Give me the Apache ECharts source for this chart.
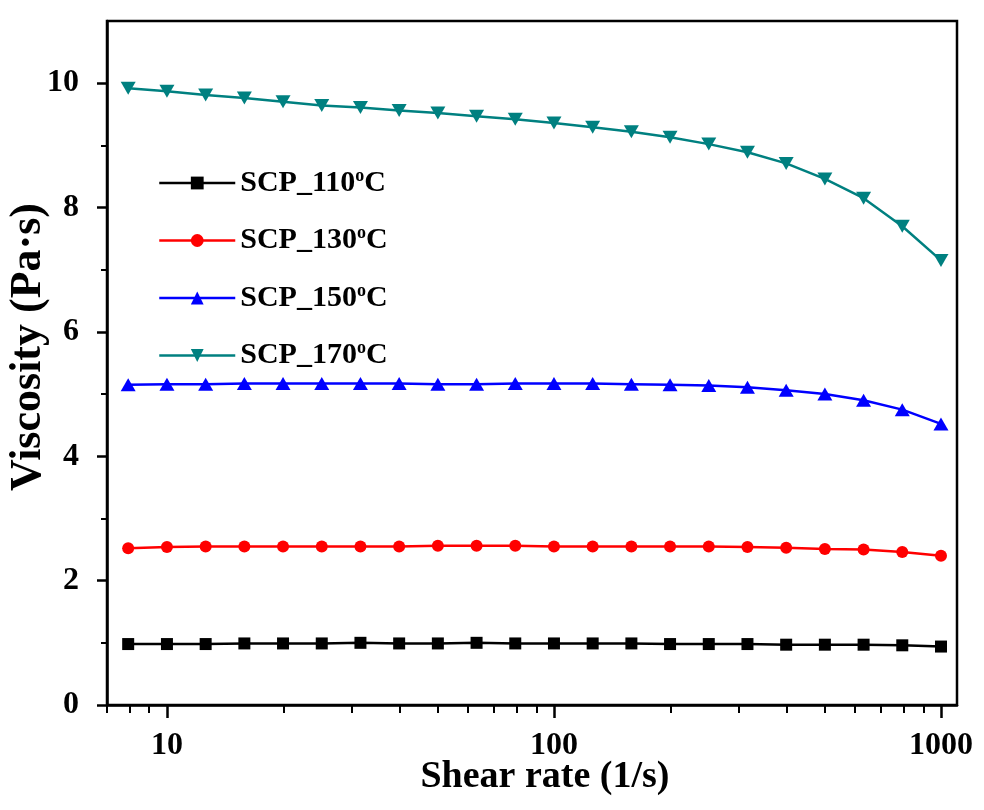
<!DOCTYPE html>
<html><head><meta charset="utf-8">
<script src="https://cdn.jsdelivr.net/npm/echarts@6/dist/echarts.min.js"></script>
<style>html,body{margin:0;padding:0;background:#fff}#c{width:984px;height:810px}</style>
</head><body><div id="c"></div>
<script>
// ---- data ----
const shearRate = [7.94, 10, 12.59, 15.85, 19.95, 25.12, 31.62, 39.81, 50.12, 63.1, 79.43, 100, 125.9, 158.5, 199.5, 251.2, 316.2, 398.1, 501.2, 631, 794.3, 1000];
const temps = ['110', '130', '150', '170'];
const visc110 = [0.98, 0.98, 0.98, 0.99, 0.99, 0.99, 1.00, 0.99, 0.99, 1.00, 0.99, 0.99, 0.99, 0.99, 0.98, 0.98, 0.98, 0.97, 0.97, 0.97, 0.96, 0.94];
const visc130 = [2.52, 2.54, 2.55, 2.55, 2.55, 2.55, 2.55, 2.55, 2.56, 2.56, 2.56, 2.55, 2.55, 2.55, 2.55, 2.55, 2.54, 2.53, 2.51, 2.50, 2.46, 2.40];
const visc150 = [5.15, 5.16, 5.16, 5.17, 5.17, 5.17, 5.17, 5.17, 5.16, 5.16, 5.17, 5.17, 5.17, 5.16, 5.15, 5.14, 5.11, 5.06, 5.00, 4.90, 4.75, 4.52];
const visc170 = [9.92, 9.87, 9.81, 9.76, 9.70, 9.64, 9.61, 9.56, 9.52, 9.47, 9.42, 9.36, 9.29, 9.22, 9.13, 9.02, 8.89, 8.71, 8.46, 8.15, 7.70, 7.15];
const xMajorTicks = [10, 100, 1000];
const xMinorTicks = [7, 8, 9, 20, 30, 40, 50, 60, 70, 80, 90, 200, 300, 400, 500, 600, 700, 800, 900];
const yMajorTicks = [0, 2, 4, 6, 8, 10];
const yMinorTicks = [1, 3, 5, 7, 9];
const xTitle = 'Shear rate (1/s)';
const yTitle = 'Viscosity (Pa\u00B7s)';

// ---- styles ----
const FONT = "'Liberation Serif', 'Times New Roman', serif";
const colors = ['#000000', '#ff0000', '#0000ff', '#008080'];
const symbols = ['rect', 'circle', 'triangle', 'triangle'];
const rotates = [0, 0, 0, 180];
const sizes = [12, 12, [15, 13], [15, 13]];
const allVisc = [visc110, visc130, visc150, visc170];
const names = temps.map(t => 'SCP_' + t + '\u00B0C');

const series = allVisc.map((vals, k) => ({
  name: names[k],
  type: 'line',
  data: shearRate.map((x, i) => [x, vals[i]]),
  symbol: symbols[k],
  symbolSize: sizes[k],
  symbolRotate: rotates[k],
  showAllSymbol: true,
  lineStyle: { color: colors[k], width: 2.5 },
  itemStyle: { color: colors[k] },
  emphasis: { disabled: true },
  animation: false,
  z: 3 + k
}));

const axisLineStyle = { color: '#000', width: 2.5 };
const chart = echarts.init(document.getElementById('c'));
chart.setOption({
  animation: false,
  backgroundColor: '#fff',
  grid: { left: 107, right: 27, top: 21, bottom: 105, show: true, borderColor: '#000', borderWidth: 2.5, backgroundColor: 'transparent', containLabel: false, outerBoundsMode: 'none' },
  legend: {
    orient: 'vertical', left: 153, top: 162, itemWidth: 76, itemHeight: 16, itemGap: 25.5,
    selectedMode: false, data: names,
    lineStyle: { width: 2.5 },
    formatter: n => '{a|' + n.replace('\u00B0C', '') + '}{s|o}{a|C}',
    textStyle: {
      color: '#000',
      rich: {
        a: { fontFamily: FONT, fontWeight: 'bold', fontSize: 30, color: '#000', lineHeight: 30 },
        s: { fontFamily: FONT, fontWeight: 'bold', fontSize: 18, color: '#000', lineHeight: 30, padding: [0, 0, 14, 0] }
      }
    }
  },
  xAxis: [{
    type: 'log', logBase: 10, min: 7, max: 1100, position: 'bottom',
    axisLine: { show: true, lineStyle: axisLineStyle },
    axisTick: { show: true, customValues: xMajorTicks, length: 13, lineStyle: { color: '#000', width: 2.5 } },
    axisLabel: { customValues: xMajorTicks, formatter: v => String(v), margin: 25, fontSize: 32, fontWeight: 'bold', color: '#000', fontFamily: FONT },
    splitLine: { show: false }, minorTick: { show: false },
    name: xTitle, nameLocation: 'middle', nameGap: 53, nameMoveOverlap: false,
    nameTextStyle: { fontSize: 38, fontWeight: 'bold', color: '#000', fontFamily: FONT, padding: [0, 0, 0, 26] }
  }, {
    type: 'log', logBase: 10, min: 7, max: 1100, position: 'bottom',
    axisLine: { show: false },
    axisTick: { show: true, customValues: xMinorTicks, length: 8, lineStyle: { color: '#000', width: 2 } },
    axisLabel: { show: false }, splitLine: { show: false }
  }],
  yAxis: [{
    type: 'value', min: 0, max: 11, position: 'left',
    axisLine: { show: true, lineStyle: axisLineStyle },
    axisTick: { show: true, customValues: yMajorTicks, length: 10, lineStyle: { color: '#000', width: 2.5 } },
    axisLabel: { customValues: yMajorTicks, margin: 28, fontSize: 32, fontWeight: 'bold', color: '#000', fontFamily: FONT },
    splitLine: { show: false },
    name: yTitle, nameLocation: 'middle', nameGap: 56, nameRotate: 90, nameMoveOverlap: false,
    nameTextStyle: { fontSize: 44, fontWeight: 'bold', color: '#000', fontFamily: FONT, padding: [0, 0, 0, 32] }
  }, {
    type: 'value', min: 0, max: 11, position: 'left',
    axisLine: { show: false },
    axisTick: { show: true, customValues: yMinorTicks, length: 6, lineStyle: { color: '#000', width: 2 } },
    axisLabel: { show: false }, splitLine: { show: false }
  }],
  series: series
});
</script></body></html>
